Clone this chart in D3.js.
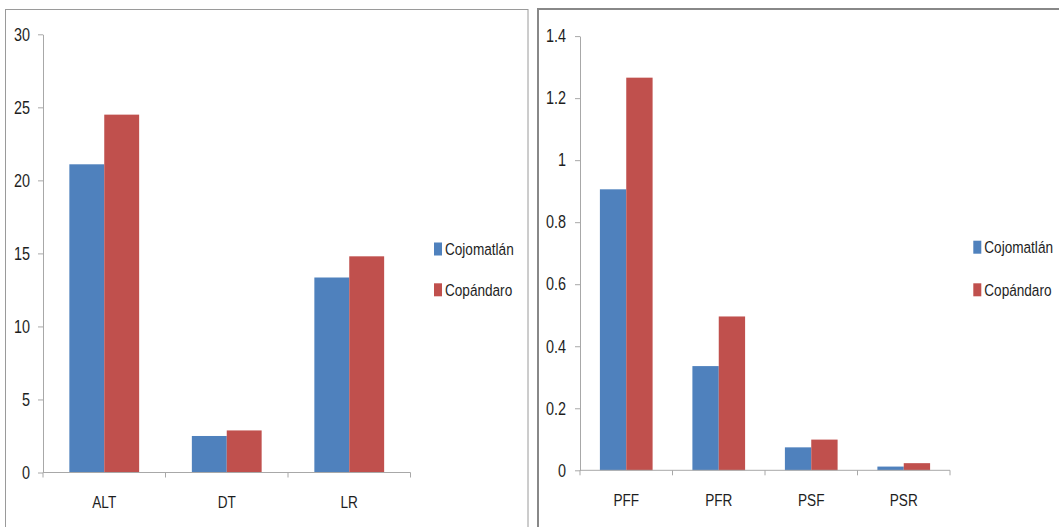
<!DOCTYPE html>
<html>
<head>
<meta charset="utf-8">
<script src="https://cdn.jsdelivr.net/npm/d3@7"></script>
<style>
  html, body { margin: 0; padding: 0; background: #fff; }
  svg { display: block; }
  text { font-family: "Liberation Sans", Arial, sans-serif; fill: #1e1e1e; }
</style>
</head>
<body>
<svg id="chart" width="1059" height="527"></svg>
<script>
// ---- data ----
const seriesNames = ["Cojomatlán", "Copándaro"];
const seriesColors = ["#4F81BD", "#C0504D"];

const leftCategories = ["ALT", "DT", "LR"];
const leftCojomatlan = [21.1, 2.5, 13.35];
const leftCopandaro = [24.5, 2.88, 14.8];
const leftTicks = [0, 5, 10, 15, 20, 25, 30];

const rightCategories = ["PFF", "PFR", "PSF", "PSR"];
const rightCojomatlan = [0.906, 0.336, 0.074, 0.012];
const rightCopandaro = [1.266, 0.496, 0.099, 0.023];
const rightTicks = [0, 0.2, 0.4, 0.6, 0.8, 1, 1.2, 1.4];

const svg = d3.select("#chart");
const SQUEEZE = 0.8; // narrow (condensed) look of the original lettering

function condense(sel) {
  sel.each(function () {
    const ax = +(this.getAttribute("x") || 0);
    d3.select(this).attr("transform",
      `translate(${ax},0) scale(${SQUEEZE},1) translate(${-ax},0)`);
  });
}

function drawPanel(cfg) {
  const g = svg.append("g");
  // frame
  g.append("rect")
    .attr("x", cfg.frame.x).attr("y", cfg.frame.y)
    .attr("width", cfg.frame.w).attr("height", cfg.frame.h)
    .attr("fill", "none").attr("stroke", cfg.frame.color)
    .attr("stroke-width", cfg.frame.sw);

  const x = d3.scaleBand().domain(cfg.categories).range([cfg.x0, cfg.x1]).padding(0);
  const xs = d3.scaleBand().domain(seriesNames).range([0, x.bandwidth()])
    .paddingInner(0).paddingOuter(0.755);
  const y = d3.scaleLinear().domain([cfg.ticks[0], cfg.ticks[cfg.ticks.length - 1]])
    .range([cfg.y0, cfg.y1]);

  const data = cfg.categories.map((c, i) => ({
    cat: c,
    vals: seriesNames.map((s, j) => ({ s, v: cfg.values[j][i], color: seriesColors[j] }))
  }));

  // bars
  const grp = g.selectAll("g.cat").data(data).enter().append("g")
    .attr("transform", d => `translate(${x(d.cat)},0)`);
  grp.selectAll("rect").data(d => d.vals).enter().append("rect")
    .attr("x", d => xs(d.s))
    .attr("width", xs.bandwidth())
    .attr("y", d => y(d.v))
    .attr("height", d => y(0) - y(d.v))
    .attr("fill", d => d.color);

  // y axis
  const yAxis = d3.axisLeft(y).tickValues(cfg.ticks).tickFormat(d3.format("~g"))
    .tickSize(5).tickSizeOuter(0).tickPadding(cfg.tickPad);
  const ya = g.append("g").attr("transform", `translate(${cfg.x0},0)`).call(yAxis);
  ya.selectAll("path, line").attr("stroke", "#a8a8a8").attr("stroke-width", 1);
  ya.selectAll("text").attr("font-size", cfg.tickFont).attr("font-family", null)
    .attr("fill", "#1e1e1e").call(condense);

  // x axis line + boundary ticks
  const xa = g.append("g").attr("transform", `translate(0,${cfg.y0})`);
  xa.append("line").attr("x1", cfg.x0).attr("x2", cfg.x1)
    .attr("stroke", "#a8a8a8");
  const bounds = cfg.categories.map(c => x(c)).concat([x(cfg.categories[cfg.categories.length - 1]) + x.bandwidth()]);
  xa.selectAll("line.b").data(bounds).enter().append("line")
    .attr("x1", d => d).attr("x2", d => d).attr("y1", 0).attr("y2", 5)
    .attr("stroke", "#a8a8a8");
  xa.selectAll("text").data(cfg.categories).enter().append("text")
    .attr("x", d => x(d) + x.bandwidth() / 2)
    .attr("y", cfg.catDy)
    .attr("text-anchor", "middle")
    .attr("dominant-baseline", "central")
    .attr("font-size", cfg.catFont)
    .text(d => d)
    .call(condense);

  // legend
  const lg = g.append("g");
  seriesNames.forEach((s, j) => {
    lg.append("rect").attr("x", cfg.legX).attr("y", cfg.legY[j])
      .attr("width", 8).attr("height", 13).attr("fill", seriesColors[j]);
    lg.append("text").attr("x", cfg.legX + 11).attr("y", cfg.legY[j] + 6.5)
      .attr("dominant-baseline", "central").attr("font-size", cfg.legFont).text(s)
      .call(condense);
  });
}

drawPanel({
  frame: { x: 5.5, y: 9.5, w: 522.5, h: 540, color: "#9a9a9a", sw: 1 },
  categories: leftCategories,
  values: [leftCojomatlan, leftCopandaro],
  ticks: leftTicks,
  x0: 43, x1: 410.5, y0: 472.5, y1: 34.3,
  tickPad: 8, tickFont: 18, catFont: 17, catDy: 29,
  legX: 434, legY: [242.5, 283.3], legFont: 17
});

drawPanel({
  frame: { x: 538, y: 9, w: 540, h: 540, color: "#888888", sw: 2 },
  categories: rightCategories,
  values: [rightCojomatlan, rightCopandaro],
  ticks: rightTicks,
  x0: 580, x1: 950, y0: 470.3, y1: 36.1,
  tickPad: 9, tickFont: 18, catFont: 17, catDy: 30,
  legX: 973.3, legY: [240.7, 283.3], legFont: 17
});
</script>
</body>
</html>
